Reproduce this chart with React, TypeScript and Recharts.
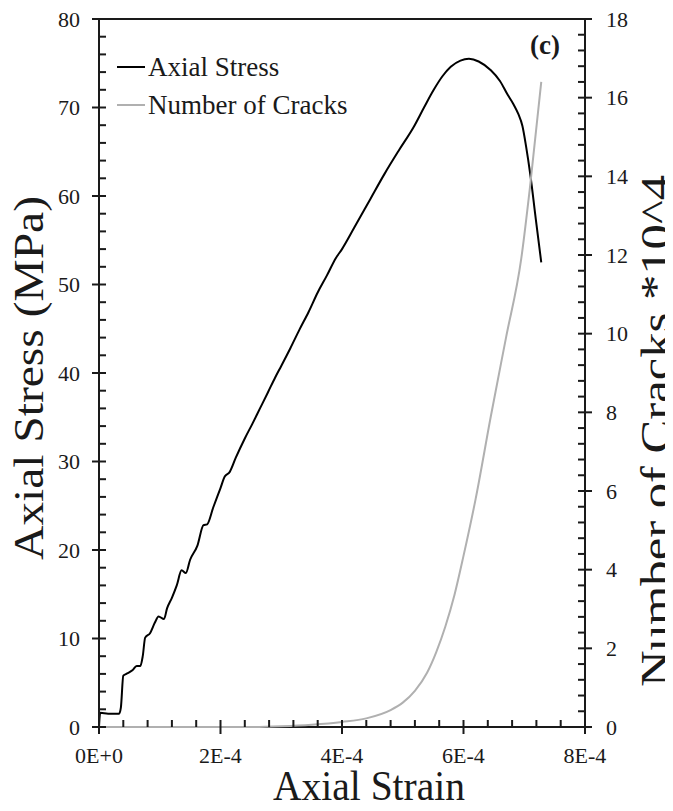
import { LineChart, Line, XAxis, YAxis, Legend, ReferenceLine } from 'recharts';

// strain values are in units of 1E-4
const stressStrain = [
  0, 0.02, 0.15, 0.33, 0.36, 0.4, 0.45, 0.55, 0.62, 0.68, 0.72, 0.76, 0.84, 0.92, 0.98,
  1.07, 1.12, 1.2, 1.28, 1.36, 1.43, 1.5, 1.62, 1.72, 1.78, 1.88, 2.0, 2.07, 2.15, 2.25,
  2.4, 2.52, 2.65, 2.78, 2.9, 3.0, 3.15, 3.3, 3.45, 3.6, 3.75, 3.9, 4.0, 4.2, 4.47, 4.7,
  4.94, 5.18, 5.35, 5.51, 5.65, 5.79, 5.95, 6.09, 6.25, 6.45, 6.6, 6.73, 6.82, 6.9, 6.97,
  7.03, 7.1, 7.19, 7.28,
];
const stressMPa = [
  0, 1.6, 1.5, 1.5, 2.2, 5.8, 6.0, 6.4, 6.9, 6.9, 8.0, 10.1, 10.6, 11.8, 12.5,
  12.2, 13.4, 14.6, 16.0, 17.7, 17.4, 18.9, 20.5, 22.8, 22.9, 24.8, 27.0, 28.3, 28.8, 30.4,
  32.6, 34.2, 36.0, 37.8, 39.5, 40.8, 42.8, 44.9, 46.9, 49.1, 51.0, 53.0, 54.0, 56.4, 59.7, 62.5,
  65.2, 67.8, 70.0, 72.0, 73.5, 74.6, 75.3, 75.5, 75.2, 74.2, 73.0, 71.4, 70.4, 69.3, 67.9,
  65.6, 62.4, 57.4, 52.5,
];

const crackStrain = [
  0, 2.5, 3.0, 3.5, 4.0, 4.4, 4.8, 5.0, 5.2, 5.4, 5.55, 5.7, 5.85, 6.0, 6.2, 6.45,
  6.7, 6.95, 7.1, 7.28,
];
const cracksE4 = [
  0, 0, 0.02, 0.06, 0.13, 0.22, 0.43, 0.62, 0.92, 1.38, 1.9, 2.55, 3.35, 4.35, 5.8, 7.9,
  9.9, 11.9, 13.8, 16.4,
];

const xTicks = [0, 0.4, 0.8, 1.2, 1.6, 2, 2.4, 2.8, 3.2, 3.6, 4, 4.4, 4.8, 5.2, 5.6, 6, 6.4, 6.8, 7.2, 7.6, 8];
const stressTicks = [
  0, 2, 4, 6, 8, 10, 12, 14, 16, 18, 20, 22, 24, 26, 28, 30, 32, 34, 36, 38, 40,
  42, 44, 46, 48, 50, 52, 54, 56, 58, 60, 62, 64, 66, 68, 70, 72, 74, 76, 78, 80,
];
const crackTicks = [
  0, 0.4, 0.8, 1.2, 1.6, 2, 2.4, 2.8, 3.2, 3.6, 4, 4.4, 4.8, 5.2, 5.6, 6, 6.4, 6.8, 7.2, 7.6, 8,
  8.4, 8.8, 9.2, 9.6, 10, 10.4, 10.8, 11.2, 11.6, 12, 12.4, 12.8, 13.2, 13.6, 14, 14.4, 14.8,
  15.2, 15.6, 16, 16.4, 16.8, 17.2, 17.6, 18,
];

const stressData = stressStrain.map((s, i) => ({ strain: s, stress: stressMPa[i] }));
const crackData = crackStrain.map((s, i) => ({ strain: s, cracks: cracksE4[i] }));

const font = 'Liberation Serif';
const ink = '#1a1a1a';

const XTick = ({ x, y, payload }: any) => {
  const major = payload.value % 2 === 0;
  return (
    <g>
      <line x1={x} x2={x} y1={y - 7} y2={major ? y + 7 : y} stroke={ink} strokeWidth={2} />
      {major && (
        <text x={x} y={y + 36} textAnchor="middle" fontFamily={font} fontSize={22} fill={ink}>
          {payload.value === 0 ? '0E+0' : `${payload.value}E-4`}
        </text>
      )}
    </g>
  );
};

const LeftTick = ({ x, y, payload }: any) => {
  const major = payload.value % 10 === 0;
  return (
    <g>
      <line x1={major ? x - 7 : x} x2={x + 7} y1={y} y2={y} stroke={ink} strokeWidth={2} />
      {major && (
        <text x={x - 19} y={y + 7.5} textAnchor="end" fontFamily={font} fontSize={22} fill={ink}>
          {payload.value}
        </text>
      )}
    </g>
  );
};

const RightTick = ({ x, y, payload }: any) => {
  const major = payload.value % 2 === 0;
  return (
    <g>
      <line x1={x - 7} x2={major ? x + 7 : x} y1={y} y2={y} stroke={ink} strokeWidth={2} />
      {major && (
        <text x={x + 21} y={y + 7.5} textAnchor="start" fontFamily={font} fontSize={22} fill={ink}>
          {payload.value}
        </text>
      )}
    </g>
  );
};

// rotated axis title, stretched to the length it has in the figure
const VerticalTitle = ({ cx, cy, length, text }: any) => (
  <text
    transform={`translate(${cx}, ${cy}) rotate(-90)`}
    x={0}
    y={0}
    textAnchor="middle"
    textLength={length}
    lengthAdjust="spacingAndGlyphs"
    fontFamily={font}
    fontSize={42}
    fill={ink}
  >
    {text}
  </text>
);

const LegendBox = ({ payload }: any) => (
  <div style={{ fontFamily: font, fontSize: 27, color: ink }}>
    {(payload || []).map((p: any) => (
      <div key={p.value} style={{ display: 'flex', alignItems: 'center', height: 38 }}>
        <span style={{ width: 28, height: 2, background: p.color, marginRight: 3 }} />
        <span>{p.value}</span>
      </div>
    ))}
  </div>
);

const App = () => {
  return (
    <div style={{ position: 'relative', width: 665, height: 803 }}>
      <LineChart width={665} height={803} margin={{ top: 11, right: 0, bottom: 8, left: 0 }}>
        <XAxis
          dataKey="strain"
          type="number"
          domain={[0, 8]}
          ticks={xTicks}
          interval={0}
          height={76}
          tickSize={0}
          tickMargin={0}
          tickLine={false}
          axisLine={{ stroke: ink, strokeWidth: 2 }}
          tick={<XTick />}
          label={{
            content: ({ viewBox }: any) => (
              <text
                x={viewBox.x + viewBox.width / 2 + 27}
                y={viewBox.y + 73}
                textAnchor="middle"
                textLength={192}
                lengthAdjust="spacingAndGlyphs"
                fontFamily={font}
                fontSize={42}
                fill={ink}
              >
                Axial Strain
              </text>
            ),
          }}
        />
        <YAxis
          yAxisId="left"
          type="number"
          domain={[0, 80]}
          ticks={stressTicks}
          interval={0}
          width={91}
          tickSize={0}
          tickMargin={0}
          tickLine={false}
          axisLine={{ stroke: ink, strokeWidth: 2 }}
          tick={<LeftTick />}
          label={{
            content: ({ viewBox }: any) => (
              <VerticalTitle
                cx={viewBox.x + 35}
                cy={viewBox.y + viewBox.height / 2 + 5}
                length={364}
                text="Axial Stress (MPa)"
              />
            ),
          }}
        />
        <YAxis
          yAxisId="right"
          orientation="right"
          type="number"
          domain={[0, 18]}
          ticks={crackTicks}
          interval={0}
          width={88}
          tickSize={0}
          tickMargin={0}
          tickLine={false}
          axisLine={{ stroke: ink, strokeWidth: 2 }}
          tick={<RightTick />}
          label={{
            content: ({ viewBox }: any) => (
              <VerticalTitle
                cx={viewBox.x + 85}
                cy={viewBox.y + viewBox.height / 2 + 58}
                length={512}
                text="Number of Cracks *10^4"
              />
            ),
          }}
        />
        <ReferenceLine yAxisId="left" y={80} stroke={ink} strokeWidth={2} />
        <Legend
          layout="horizontal"
          verticalAlign="middle"
          align="center"
          wrapperStyle={{ top: 40, left: 109, width: 'auto' }}
          content={<LegendBox />}
        />
        <Line
          yAxisId="left"
          data={stressData}
          dataKey="stress"
          name="Axial Stress"
          type="monotone"
          stroke="#000"
          strokeWidth={2}
          dot={false}
          isAnimationActive={false}
        />
        <Line
          yAxisId="right"
          data={crackData}
          dataKey="cracks"
          name="Number of Cracks"
          type="monotone"
          stroke="#b0b0b0"
          strokeWidth={2}
          dot={false}
          isAnimationActive={false}
          zIndex={700}
        />
      </LineChart>
      <div
        style={{
          position: 'absolute',
          left: 522,
          top: 24,
          fontFamily: font,
          fontSize: 27,
          fontWeight: 'bold',
          lineHeight: '27px',
          color: ink,
        }}
      >
        (c)
      </div>
    </div>
  );
};

export default App;
